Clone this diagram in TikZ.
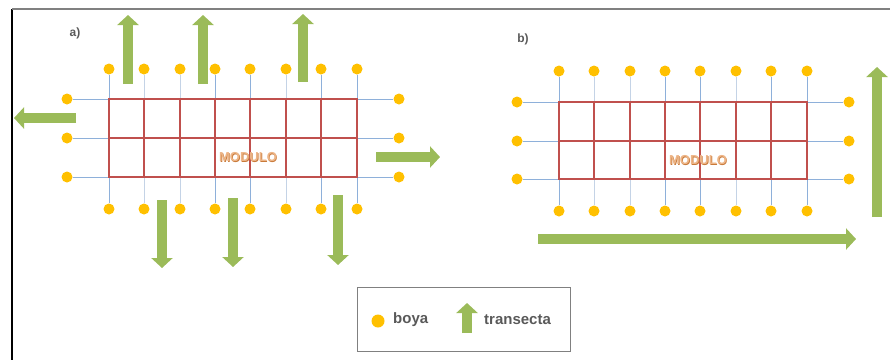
\documentclass[tikz,border=0pt]{standalone}
\usepackage{fontspec}
\setmainfont{Liberation Sans}
\usetikzlibrary{arrows.meta}
\definecolor{buoy}{HTML}{FFC000}
\definecolor{grn}{HTML}{9BBB59}
\definecolor{gridred}{HTML}{C0504D}
\definecolor{lineblue}{HTML}{8EB0DA}
\definecolor{linepale}{HTML}{C4D3E6}
\definecolor{txtgray}{HTML}{595959}
\definecolor{modcol}{HTML}{EDB587}
\definecolor{modshade}{HTML}{C97A3A}
\tikzset{
  dot/.style={circle,fill=buoy,draw=none,minimum size=11pt,inner sep=0pt},
  tarrow/.style={draw=grn,line width=10pt,-{Triangle[width=21pt,length=10pt]}},
  bline/.style={draw=lineblue,line width=1pt},
  pline/.style={draw=linepale,line width=1pt},
  rgrid/.style={draw=gridred,line width=1.6pt},
  lbl/.style={font=\bfseries\fontsize{12}{14}\selectfont,text=txtgray,inner sep=0pt},
  legtxt/.style={font=\bfseries\fontsize{15}{18}\selectfont,text=txtgray,inner sep=0pt,anchor=west},
  modtxt/.style={font=\bfseries\fontsize{13}{15}\selectfont,inner sep=0pt}
}
\begin{document}
\begin{tikzpicture}[x=1pt,y=-1pt]
\useasboundingbox (0,0) rectangle (890,360);
% frame
\draw[draw=black,line width=1.5pt] (12,9) -- (12,360);
\draw[draw=gray,line width=1.2pt] (12,9) -- (890,9);

% ---------- panel a ----------
\node[lbl] (la) at (75,33) {a)};
\foreach \i/\xx in {0/109,1/144,2/180,3/215,4/250,5/286,6/321,7/357} {
  \node[dot] (at\i) at (\xx,69) {};
  \node[dot] (ab\i) at (\xx,209) {};
}
\foreach \j/\yy in {0/99,1/138,2/177} {
  \node[dot] (al\j) at (67,\yy) {};
  \node[dot] (ar\j) at (399,\yy) {};
}
\foreach \j in {0,1,2} \draw[bline] (al\j) -- (ar\j);
\foreach \i in {0,3,4,6,7} \draw[bline] (at\i) -- (ab\i);
\foreach \i in {1,2,5} \draw[pline] (at\i) -- (ab\i);
\draw[rgrid] (109,99) rectangle (357,177);
\draw[rgrid] (109,138) -- (357,138);
\foreach \xx in {144,180,215,250,286,321}
  \draw[rgrid] (\xx,99) -- (\xx,177);
\node[modtxt,text=modshade] at (248.7,157.7) {MODULO};
\node[modtxt,text=modcol] (ma) at (248,157) {MODULO};
% transect arrows a
\coordinate (u1s) at (128,84); \coordinate (u1e) at (128,15);
\coordinate (u2s) at (203,84); \coordinate (u2e) at (203,15);
\coordinate (u3s) at (303,82); \coordinate (u3e) at (303,14);
\coordinate (lfs) at (76,118); \coordinate (lfe) at (14,118);
\coordinate (rts) at (376,157); \coordinate (rte) at (440,157);
\coordinate (d1s) at (162,200); \coordinate (d1e) at (162,268);
\coordinate (d2s) at (233,198); \coordinate (d2e) at (233,267);
\coordinate (d3s) at (338,195); \coordinate (d3e) at (338,265);
\foreach \p in {u1,u2,u3,lf,rt,d1,d2,d3} \draw[tarrow] (\p s) -- (\p e);

% ---------- panel b ----------
\node[lbl] (lb) at (523,39) {b)};
\foreach \i/\xx in {0/559,1/594,2/630,3/665,4/700,5/736,6/771,7/807} {
  \node[dot] (bt\i) at (\xx,71) {};
  \node[dot] (bb\i) at (\xx,211) {};
}
\foreach \j/\yy in {0/102,1/141,2/179} {
  \node[dot] (bl\j) at (517,\yy) {};
  \node[dot] (br\j) at (849,\yy) {};
}
\foreach \j in {0,1,2} \draw[bline] (bl\j) -- (br\j);
\foreach \i in {0,3,4,6,7} \draw[bline] (bt\i) -- (bb\i);
\foreach \i in {1,2,5} \draw[pline] (bt\i) -- (bb\i);
\draw[rgrid] (559,102) rectangle (807,179);
\draw[rgrid] (559,141) -- (807,141);
\foreach \xx in {594,630,665,700,736,771}
  \draw[rgrid] (\xx,102) -- (\xx,179);
\node[modtxt,text=modshade] at (698.7,160.7) {MODULO};
\node[modtxt,text=modcol] (mb) at (698,160) {MODULO};
\coordinate (bus) at (877,217); \coordinate (bue) at (877,67);
\coordinate (brs) at (538,239); \coordinate (bre) at (856,239);
\draw[tarrow] (bus) -- (bue);
\draw[tarrow] (brs) -- (bre);

% ---------- legend ----------
\node[draw=gray,line width=0.9pt,minimum width=213pt,minimum height=64pt,inner sep=0pt,anchor=north west] (leg) at (357,287) {};
\node[dot,minimum size=13pt] (ld) at (378,321) {};
\node[legtxt] (lt1) at (393,320) {boya};
\coordinate (las) at (467,333); \coordinate (lae) at (467,303);
\draw[tarrow] (las) -- (lae);
\node[legtxt] (lt2) at (484,320) {transecta};
\end{tikzpicture}
\end{document}
